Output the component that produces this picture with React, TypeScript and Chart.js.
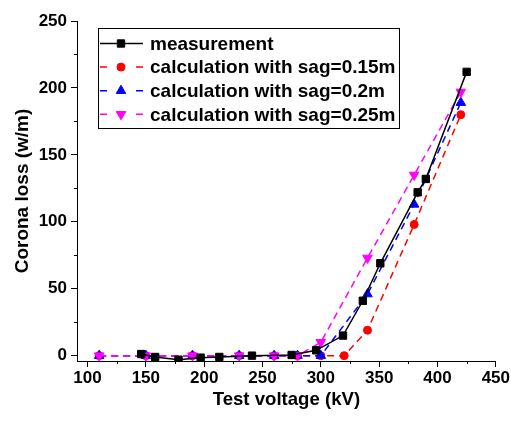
import React, { useEffect, useRef } from "react";
import { Chart, registerables } from "chart.js";
import { drawPoint } from "chart.js/helpers";

Chart.register(...registerables);

// ---- data ----
const xTickValues = [100, 150, 200, 250, 300, 350, 400, 450];
const yTickValues = [0, 50, 100, 150, 200, 250];
const xMinorTicks = [125, 175, 225, 275, 325, 375, 425];
const yMinorTicks = [25, 75, 125, 175, 225];

const measVoltage = [146, 158, 178, 197, 213, 241, 275, 296, 319, 336, 351, 383, 390, 425];
const measLoss = [1.2, -1, -3, -1.5, -1, 0, 0.5, 4, 15, 41, 69, 122, 132, 212];

const calc015Voltage = [110, 150, 190, 230, 260, 280, 300, 320, 340, 380, 420];
const calc015Loss = [0, 0, 0, 0, 0, 0, 0, 0, 19, 98, 180];

const calc02Voltage = [110, 150, 190, 230, 260, 280, 300, 340, 380, 420];
const calc02Loss = [0, 0, 0, 0, 0, 0, 0, 46, 113, 189];

const calc025Voltage = [110, 150, 190, 230, 260, 280, 300, 340, 380, 420];
const calc025Loss = [0, 0, 0, 0, 0, 0, 10, 73, 135, 197];

const seriesLabels = [
  "measurement",
  "calculation with sag=0.15m",
  "calculation with sag=0.2m",
  "calculation with sag=0.25m",
];

const FONT = "'Liberation Sans', Arial, Helvetica, sans-serif";

const zip = (xs: number[], ys: number[]) => xs.map((x, i) => ({ x, y: ys[i] }));

export default function App() {
  const ref = useRef<HTMLCanvasElement>(null);

  useEffect(() => {
    const canvas = ref.current;
    if (!canvas) return;

    const minorTicksPlugin = {
      id: "minorTicks",
      afterDraw(chart: any) {
        const c = chart.ctx;
        const xs = chart.scales.x;
        const ys = chart.scales.y;
        const area = chart.chartArea;
        c.save();
        c.strokeStyle = "#000";
        c.lineWidth = 1;
        c.beginPath();
        xMinorTicks.forEach((v) => {
          const px = Math.round(xs.getPixelForValue(v)) + 0.5;
          c.moveTo(px, area.bottom);
          c.lineTo(px, area.bottom + 3);
        });
        yMinorTicks.forEach((v) => {
          const py = Math.round(ys.getPixelForValue(v)) + 0.5;
          c.moveTo(area.left, py);
          c.lineTo(area.left - 3, py);
        });
        c.stroke();
        c.restore();
      },
    };

    const boxLegendPlugin = {
      id: "boxLegend",
      afterDraw(chart: any) {
        const c = chart.ctx;
        const x0 = 98;
        const y0 = 28;
        const w = 301;
        const h = 100;
        c.save();
        c.fillStyle = "#fff";
        c.fillRect(x0, y0, w, h);
        c.strokeStyle = "#000";
        c.lineWidth = 1;
        c.strokeRect(x0 + 0.5, y0 + 0.5, w, h);
        chart.data.datasets.forEach((ds: any, i: number) => {
          const cy = 43.5 + i * 23.6;
          c.strokeStyle = ds.borderColor;
          c.lineWidth = ds.borderWidth;
          c.setLineDash([]);
          c.beginPath();
          if (ds.borderDash && ds.borderDash.length) {
            c.moveTo(100, cy);
            c.lineTo(107, cy);
            c.moveTo(136, cy);
            c.lineTo(143, cy);
          } else {
            c.moveTo(100, cy);
            c.lineTo(143, cy);
          }
          c.stroke();
          c.fillStyle = ds.pointBackgroundColor;
          c.strokeStyle = ds.pointBorderColor;
          c.lineWidth = 1;
          drawPoint(
            c,
            {
              pointStyle: ds.pointStyle,
              radius: ds.pointRadius,
              rotation: ds.pointRotation || 0,
              borderWidth: 1,
            } as any,
            121,
            cy
          );
          c.fillStyle = "#000";
          c.font = `bold 19px ${FONT}`;
          c.textBaseline = "middle";
          c.textAlign = "left";
          c.fillText(ds.label, 150, cy + 1);
        });
        c.restore();
      },
    };

    const chart = new Chart(canvas, {
      type: "line",
      data: {
        datasets: [
          {
            label: seriesLabels[0],
            data: zip(measVoltage, measLoss),
            borderColor: "#000000",
            backgroundColor: "#000000",
            borderWidth: 1.5,
            pointStyle: "rect",
            pointRadius: 5.2,
            pointBackgroundColor: "#000000",
            pointBorderColor: "#000000",
            pointBorderWidth: 1,
            tension: 0,
            order: 0,
          } as any,
          {
            label: seriesLabels[1],
            data: zip(calc015Voltage, calc015Loss),
            borderColor: "#FF0000",
            backgroundColor: "#FF0000",
            borderWidth: 1.5,
            borderDash: [7, 5],
            pointStyle: "circle",
            pointRadius: 4,
            pointBackgroundColor: "#FF0000",
            pointBorderColor: "#FF0000",
            pointBorderWidth: 1,
            tension: 0,
            order: 3,
          },
          {
            label: seriesLabels[2],
            data: zip(calc02Voltage, calc02Loss),
            borderColor: "#0000FF",
            backgroundColor: "#0000FF",
            borderWidth: 1.5,
            borderDash: [7, 5],
            pointStyle: "triangle",
            pointRadius: 5.5,
            pointBackgroundColor: "#0000FF",
            pointBorderColor: "#0000FF",
            pointBorderWidth: 1,
            tension: 0,
            order: 2,
          },
          {
            label: seriesLabels[3],
            data: zip(calc025Voltage, calc025Loss),
            borderColor: "#FF00FF",
            backgroundColor: "#FF00FF",
            borderWidth: 1.5,
            borderDash: [7, 5],
            pointStyle: "triangle",
            pointRotation: 180,
            pointRadius: 5.5,
            pointBackgroundColor: "#FF00FF",
            pointBorderColor: "#FF00FF",
            pointBorderWidth: 1,
            tension: 0,
            order: 1,
          },
        ],
      },
      options: {
        responsive: false,
        animation: false,
        devicePixelRatio: 1,
        layout: { padding: { top: 21, right: 14, left: 0, bottom: 0 } },
        plugins: {
          legend: { display: false },
          tooltip: { enabled: false },
        },
        scales: {
          x: {
            type: "linear",
            min: 91,
            max: 450,
            afterBuildTicks: (scale: any) => {
              scale.ticks = xTickValues.map((v) => ({ value: v }));
            },
            afterFit: (scale: any) => {
              scale.height = 63;
            },
            ticks: {
              color: "#000",
              font: { family: FONT, size: 17, weight: "bold" },
              autoSkip: false,
              maxRotation: 0,
              padding: 1,
            },
            grid: {
              display: true,
              drawOnChartArea: false,
              drawTicks: true,
              tickLength: 6,
              tickColor: "#000",
              tickWidth: 1,
            },
            border: { display: true, color: "#000", width: 1 },
            title: {
              display: true,
              text: "Test voltage (kV)",
              color: "#000",
              font: { family: FONT, size: 18.6, weight: "bold", lineHeight: 1.2 },
              padding: { top: 0, bottom: 13 },
            },
          },
          y: {
            type: "linear",
            min: -4,
            max: 250,
            afterBuildTicks: (scale: any) => {
              scale.ticks = yTickValues.map((v) => ({ value: v }));
            },
            afterFit: (scale: any) => {
              scale.width = 77;
            },
            ticks: {
              color: "#000",
              font: { family: FONT, size: 17, weight: "bold" },
              autoSkip: false,
              padding: 4,
            },
            grid: {
              display: true,
              drawOnChartArea: false,
              drawTicks: true,
              tickLength: 6,
              tickColor: "#000",
              tickWidth: 1,
            },
            border: { display: true, color: "#000", width: 1 },
            title: {
              display: true,
              text: "Corona loss (w/m)",
              color: "#000",
              font: { family: FONT, size: 19, weight: "bold", lineHeight: 1.2 },
              padding: { top: 11, bottom: 0 },
            },
          },
        },
      } as any,
      plugins: [minorTicksPlugin, boxLegendPlugin],
    });

    return () => {
      chart.destroy();
    };
  }, []);

  return (
    <div style={{ position: "absolute", left: 0, top: 0, width: 511, height: 424, background: "#fff" }}>
      <canvas ref={ref} width={511} height={424} style={{ display: "block" }} />
    </div>
  );
}
